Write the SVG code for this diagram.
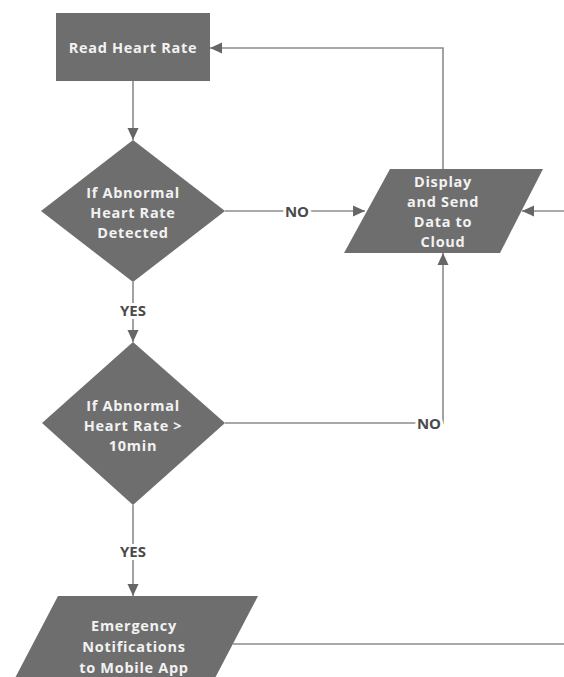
<svg xmlns="http://www.w3.org/2000/svg" width="564" height="677" viewBox="0 0 564 677">
<style>
.shape{fill:#6e6e6e;}
.t{font-family:"Open Sans","Liberation Sans",sans-serif;font-weight:bold;font-size:14.5px;letter-spacing:0.7px;fill:#f2f2f2;text-anchor:middle;dominant-baseline:central;}
.c{fill:none;stroke:#8c8c8c;stroke-width:1.6;}
.lbl{font-family:"Open Sans","Liberation Sans",sans-serif;font-weight:bold;font-size:15px;fill:#4a4a4a;text-anchor:middle;dominant-baseline:central;stroke:#ffffff;stroke-width:6;paint-order:stroke;}
</style>
<defs>
<marker id="ah" markerUnits="userSpaceOnUse" markerWidth="12" markerHeight="12" viewBox="0 0 12 12" refX="12" refY="6" orient="auto">
<path d="M0,0.5 L12,6 L0,11.5 Z" fill="#666666"/>
</marker>
</defs>
<rect width="564" height="677" fill="#ffffff"/>
<g id="connectors">
<path class="c" d="M133,81 V140" marker-end="url(#ah)"/>
<path class="c" d="M133,282 V342" marker-end="url(#ah)"/>
<path class="c" d="M225,211 H365" marker-end="url(#ah)"/>
<path class="c" d="M225,423 H443 V253" marker-end="url(#ah)"/>
<path class="c" d="M443,169 V48 H210" marker-end="url(#ah)"/>
<path class="c" d="M564,211 H522" marker-end="url(#ah)"/>
<path class="c" d="M133,505 V596" marker-end="url(#ah)"/>
<path class="c" d="M233,644 H564"/>
<text class="lbl" x="297" y="211">NO</text>
<text class="lbl" x="429" y="423">NO</text>
<text class="lbl" x="133" y="310">YES</text>
<text class="lbl" x="133" y="551">YES</text>
</g>
<g id="read">
<rect class="shape" x="56" y="13" width="154" height="68"/>
<text class="t" x="133" y="47">Read Heart Rate</text>
</g>
<g id="decision1">
<polygon class="shape" points="133,140 225,211 133,282 41,211"/>
<text class="t" x="133" y="192">If Abnormal</text>
<text class="t" x="133" y="212">Heart Rate</text>
<text class="t" x="133" y="232">Detected</text>
</g>
<g id="cloud">
<polygon class="shape" points="390,169 543,169 500,253 344,253"/>
<text class="t" x="443" y="181">Display</text>
<text class="t" x="443" y="201">and Send</text>
<text class="t" x="443" y="221">Data to</text>
<text class="t" x="443" y="241">Cloud</text>
</g>
<g id="decision2">
<polygon class="shape" points="133,342 225,423 133,505 42,423"/>
<text class="t" x="133" y="405">If Abnormal</text>
<text class="t" x="133" y="425">Heart Rate &gt;</text>
<text class="t" x="133" y="445">10min</text>
</g>
<g id="emergency">
<polygon class="shape" points="58,596 258,596 214,680 14,680"/>
<text class="t" x="134" y="625">Emergency</text>
<text class="t" x="134" y="646">Notifications</text>
<text class="t" x="134" y="667">to Mobile App</text>
</g>
</svg>
